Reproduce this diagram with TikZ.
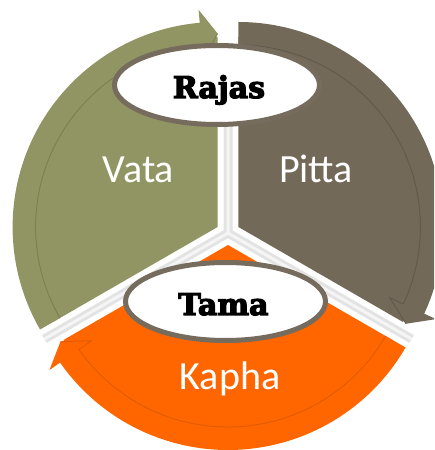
\documentclass[tikz,border=0pt]{standalone}
\usepackage{fontspec}
\newfontfamily\segfont{Carlito}
\newfontfamily\gunafont[FakeBold=4]{DejaVu Serif}
\usetikzlibrary{calc}
\definecolor{vatacol}{RGB}{145,149,99}
\definecolor{pittacol}{RGB}{114,105,89}
\definecolor{kaphacol}{RGB}{255,102,0}
\definecolor{ringcol}{RGB}{117,108,94}
\begin{document}
\begin{tikzpicture}[x=1pt,y=1pt,
  segtext/.style={text=white,font=\segfont\fontsize{40}{48}\selectfont,anchor=base,inner sep=0pt},
  gunatext/.style={text=black,font=\gunafont\bfseries\fontsize{30}{34}\selectfont,anchor=base,inner sep=0pt},
  gunaring/.style={draw=ringcol,line width=5pt,fill=white},
  gapline/.style={line width=9pt,draw=black!11},
  gapcore/.style={line width=3pt,draw=black!4},
  innerline/.style={line width=0.9pt}
]
\useasboundingbox (0,0) rectangle (434,450);
\clip (0,0) rectangle (434,450);
\coordinate (C) at (228,217);
\coordinate (Cv) at (217.6,223);
\coordinate (Cp) at (238.4,223);
\coordinate (Ck) at (228,205);
% gaps
\draw[gapline] (C) -- ++(90:190) (C) -- ++(210:212) (C) -- ++(330:212);
\draw[gapcore] (C) -- ++(90:190) (C) -- ++(210:212) (C) -- ++(330:212);
% Vata
\begin{scope}[shift={(Cv)}]
\fill[vatacol] (0,0) -- (210:190) arc[start angle=210,end angle=90,radius=190] -- cycle;
\fill[vatacol] (210:205) arc[start angle=210,end angle=95,radius=205] -- (95:218) -- (90:193.5) -- (95:167) -- (95:182) arc[start angle=95,end angle=210,radius=182] -- cycle;
\draw[innerline,vatacol!85!black] (210:182) arc[start angle=210,end angle=95,radius=182] -- (95:167) -- (90:193.5);
\end{scope}
% Pitta
\begin{scope}[shift={(Cp)}]
\fill[pittacol] (0,0) -- (-30:190) arc[start angle=-30,end angle=90,radius=190] -- cycle;
\fill[pittacol] (90:205) arc[start angle=90,end angle=-25,radius=205] -- (-25:218) -- (-30:193.5) -- (-25:167) -- (-25:182) arc[start angle=-25,end angle=90,radius=182] -- cycle;
\draw[innerline,pittacol!85!black] (90:182) arc[start angle=90,end angle=-25,radius=182] -- (-25:167) -- (-30:193.5);
\end{scope}
% Kapha
\begin{scope}[shift={(Ck)}]
\fill[kaphacol] (0,0) -- (210:190) arc[start angle=210,end angle=330,radius=190] -- cycle;
\fill[kaphacol] (330:205) arc[start angle=330,end angle=215,radius=205] -- (215:218) -- (210:193.5) -- (215:167) -- (215:182) arc[start angle=215,end angle=330,radius=182] -- cycle;
\draw[innerline,kaphacol!88!black] (330:182) arc[start angle=330,end angle=215,radius=182] -- (215:167) -- (210:193.5);
\end{scope}
% labels
\node[segtext] (vata) at (138.5,267) {Vata};
\node[segtext] (pitta) at (316,267) {Pitta};
\node[segtext] (kapha) at (230,60) {Kapha};
% ellipses
\draw[gunaring] (217,365) ellipse[x radius=102.5,y radius=39.5];
\node[gunatext] (rajas) at (219,352) {Rajas};
\draw[gunaring] (225.5,148.5) ellipse[x radius=100,y radius=39];
\node[gunatext] (tama) at (223.5,135) {Tama};
\end{tikzpicture}
\end{document}
